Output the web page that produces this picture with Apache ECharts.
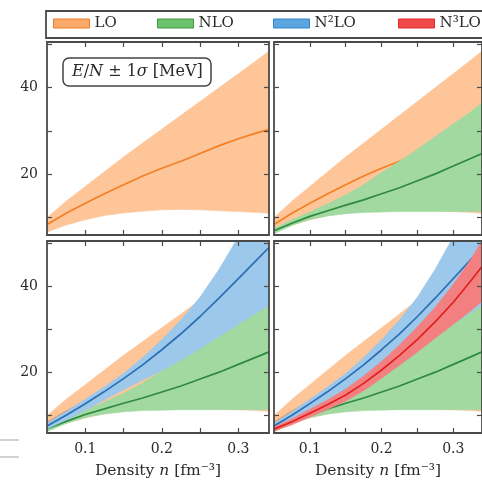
<!DOCTYPE html>
<html><head><meta charset="utf-8">
<script src="https://cdn.jsdelivr.net/npm/echarts@6/dist/echarts.min.js"></script>
<style>html,body{margin:0;padding:0;background:#fff}#c{width:482px;height:487px}</style>
</head><body><div id="c"></div>
<script>
// ---- data ----
const density = [0.05,0.075,0.1,0.125,0.15,0.175,0.2,0.225,0.25,0.275,0.3,0.325,0.34];

const loCenter = [8.4,11.0,13.3,15.5,17.6,19.6,21.4,23.0,24.8,26.6,28.2,29.6,30.3];
const loLower  = [6.7,8.3,9.5,10.5,11.1,11.5,11.8,11.9,11.8,11.6,11.4,11.2,11.0];
const loUpper  = [10.0,13.8,17.2,20.6,24.0,27.2,30.4,33.6,36.8,40.0,43.2,46.4,48.4];

const nloCenter = [7.0,8.7,10.3,11.6,12.9,14.1,15.5,16.9,18.5,20.1,21.9,23.7,24.8];
const nloLower  = [6.3,8.2,9.6,10.4,10.9,11.2,11.3,11.4,11.4,11.4,11.4,11.4,11.4];
const nloUpper  = [7.5,9.5,11.3,13.2,15.2,17.6,20.4,23.0,25.8,28.7,31.6,34.5,36.5];

const n2loCenter = [7.6,10.1,12.8,15.6,18.6,21.8,25.3,29.0,33.0,37.3,41.8,46.3,49.0];
const n2loLower  = [6.9,9.0,11.3,13.7,16.0,18.3,20.5,22.9,25.6,28.4,31.2,34.0,35.6];
const n2loUpper  = [8.4,11.0,13.8,16.7,19.8,23.5,27.6,32.2,37.5,44.0,51.5,59.0,64.0];

const n3loCenter = [6.9,8.6,10.6,12.6,14.8,17.5,20.6,24.0,27.7,31.8,36.3,41.4,44.6];
const n3loLower  = [6.4,7.9,9.7,11.5,13.4,15.8,18.7,21.7,24.8,28.0,31.2,34.4,36.5];
const n3loUpper  = [7.4,9.3,11.5,13.7,16.2,19.2,22.6,26.4,30.6,35.2,40.4,46.4,50.5];

const orderNames = ['LO','NLO','N²LO','N³LO'];
const xTicks = [0.1,0.15,0.2,0.25,0.3];
const xTickLabels = [0.1,0.2,0.3];
const yTicks = [10,20,30,40,50];
const yTickLabels = [20,40];
const xName = 'Density {i|n} [fm⁻³]';
const boxLabel = '{i|E}/{i|N} ± 1{i|σ} [MeV]';

// ---- styles ----
const FONT = 'DejaVu Serif';
const TXT = '#2a2a2a';
const AX = '#4a4a4a';
const orderData = [
  {c: loCenter,  l: loLower,  u: loUpper},
  {c: nloCenter, l: nloLower, u: nloUpper},
  {c: n2loCenter,l: n2loLower,u: n2loUpper},
  {c: n3loCenter,l: n3loLower,u: n3loUpper}
];
const colors = [
  {band:'#fdc598', line:'#f47f24', patch:'#f9a96a', edge:'#ef7d27'},
  {band:'#a2d9a0', line:'#2e8a3c', patch:'#6cc26c', edge:'#3f9a41'},
  {band:'#9cc8ec', line:'#2d6db3', patch:'#5ca6df', edge:'#3383c6'},
  {band:'#f38080', line:'#e0201f', patch:'#f04a4a', edge:'#df2a2a'}
];
const grids = [
  {left:47,  top:42,  width:222, height:193},
  {left:274, top:42,  width:222, height:193},
  {left:47,  top:241, width:222, height:192},
  {left:274, top:241, width:222, height:192}
];

function bandRender(color){
  return function(params, api){
    if (params.dataIndexInside !== 0) return null;
    const n = params.dataInsideLength;
    const top = [], bot = [];
    for (let i = 0; i < n; i++) {
      top.push(api.coord([api.value(0, i), api.value(2, i)]));
      bot.push(api.coord([api.value(0, i), api.value(1, i)]));
    }
    return {type:'polygon', shape:{points: top.concat(bot.reverse())},
            style:{fill: color, stroke: color, lineWidth: 0.6}};
  };
}

const xAxes = [], yAxes = [], series = [];
grids.forEach((g, gi) => {
  const bottomRow = gi >= 2, leftCol = gi % 2 === 0;
  ['bottom','top'].forEach(pos => {
    xAxes.push({
      gridIndex: gi, type:'value', min:0.05, max:0.34, position: pos, z: 15,
      axisLine:{show:true, onZero:false, lineStyle:{color:AX, width:1.8}},
      axisTick:{show:true, inside:true, length:5, customValues:xTicks, lineStyle:{color:AX, width:1.2}},
      axisLabel:{show: pos==='bottom' && bottomRow, customValues:xTickLabels, margin:9,
                 fontFamily:FONT, fontSize:14, color:TXT},
      splitLine:{show:false},
      name: (pos==='bottom' && bottomRow) ? xName : '',
      nameLocation:'middle', nameGap:30,
      nameTextStyle:{fontFamily:FONT, fontSize:15.5, color:TXT,
        rich:{i:{fontFamily:FONT, fontSize:15.5, fontStyle:'italic', color:TXT}}}
    });
  });
  ['left','right'].forEach(pos => {
    yAxes.push({
      gridIndex: gi, type:'value', min:6, max:50.5, position: pos, z: 15,
      axisLine:{show:true, onZero:false, lineStyle:{color:AX, width:1.8}},
      axisTick:{show:true, inside:true, length:5, customValues:yTicks, lineStyle:{color:AX, width:1.2}},
      axisLabel:{show: pos==='left' && leftCol, customValues:yTickLabels, margin:9,
                 fontFamily:FONT, fontSize:14, color:TXT},
      splitLine:{show:false}
    });
  });
  for (let j = 0; j <= gi; j++) {
    const d = orderData[j];
    series.push({
      type:'custom', name: orderNames[j] + ' band', xAxisIndex: 2*gi, yAxisIndex: 2*gi,
      clip:true, silent:true, z: 2 + 2*j,
      encode:{x:0, y:[1,2]},
      data: density.map((x, i) => [x, d.l[i], d.u[i]]),
      renderItem: bandRender(colors[j].band)
    });
    series.push({
      type:'line', name: orderNames[j], xAxisIndex: 2*gi, yAxisIndex: 2*gi,
      clip:true, silent:true, z: 3 + 2*j, symbol:'none', showSymbol:false,
      lineStyle:{color: colors[j].line, width:1.7},
      itemStyle:{color: colors[j].line},
      data: density.map((x, i) => [x, d.c[i]])
    });
  }
});

const legendLefts = [53, 157, 273, 398];
const legends = orderNames.map((nm, j) => ({
  left: legendLefts[j], top: 16, padding: 0, selectedMode:false,
  itemWidth: 36, itemHeight: 9, itemGap: 0, icon:'rect',
  textStyle:{fontFamily:FONT, fontSize:15, color:TXT},
  data:[{name: nm, icon:'rect', itemStyle:{color: colors[j].patch, borderColor: colors[j].edge, borderWidth:1}}]
}));

const option = {
  animation:false,
  backgroundColor:'#fff',
  grid: grids.map(g => Object.assign({containLabel:false, show:false}, g)),
  xAxis: xAxes, yAxis: yAxes, series: series,
  legend: legends,
  title: {
    text: boxLabel, left: 63, top: 58, padding:[6,9], z: 20,
    borderColor:'#444', borderWidth:1.5, borderRadius:6, backgroundColor:'#fff',
    textStyle:{fontFamily:FONT, fontSize:16, fontWeight:'normal', color:TXT,
      rich:{i:{fontFamily:FONT, fontSize:16, fontStyle:'italic', color:TXT}}}
  },
  graphic: [
    {type:'rect', z:0, shape:{x:46, y:11, width:500, height:27}, style:{fill:'#fff', stroke:'#4a4a4a', lineWidth:1.8}},
    {type:'line', shape:{x1:0, y1:440, x2:19, y2:440}, style:{stroke:'#c4c4c4', lineWidth:1.5}},
    {type:'line', shape:{x1:0, y1:457, x2:19, y2:457}, style:{stroke:'#c4c4c4', lineWidth:1.5}}
  ]
};
const chart = echarts.init(document.getElementById('c'), null, {renderer:'canvas'});
chart.setOption(option);
</script></body></html>
